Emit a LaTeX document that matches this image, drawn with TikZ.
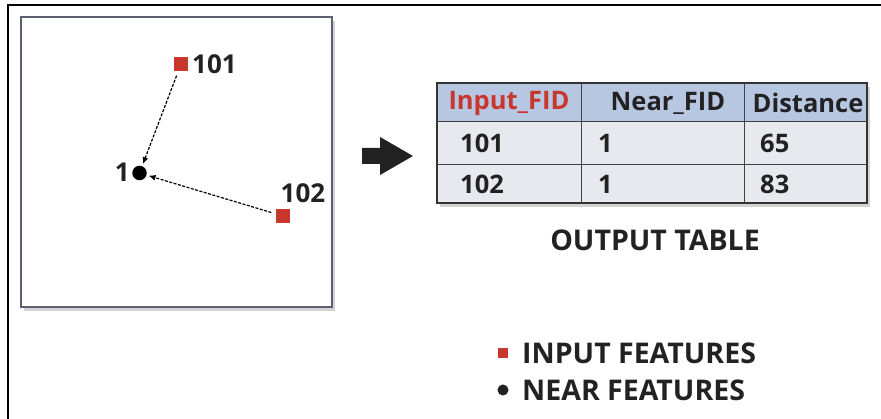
\documentclass[tikz,border=0pt]{standalone}
\usepackage{fontspec}
\setmainfont{Open Sans}
\usetikzlibrary{shadows,arrows.meta}
\definecolor{feat}{HTML}{C8372D}
\definecolor{hdr}{HTML}{B7C7E2}
\definecolor{rowc}{HTML}{E8E9EE}
\definecolor{frame}{HTML}{5C6070}
\definecolor{ink}{HTML}{222222}
\tikzset{
  sq/.style={fill=feat,minimum size=13.5pt,inner sep=0pt},
  lbl/.style={font=\bfseries\fontsize{26}{26}\selectfont,text=ink,inner sep=0pt},
  cell/.style={font=\bfseries\fontsize{25.5}{26}\selectfont,text=ink,inner sep=0pt},
  leg/.style={font=\bfseries\fontsize{28.5}{29}\selectfont,text=ink,inner sep=0pt,anchor=west},
  conn/.style={-{Latex[length=7pt,width=6pt]},dash pattern=on 3pt off 1.5pt,line width=1.2pt,shorten >=2pt,shorten <=5pt},
}
\begin{document}
\begin{tikzpicture}[x=1pt,y=-1pt]
\useasboundingbox (0,0) rectangle (881,419);
% outer frame
\draw[line width=1.2pt] (8,419) -- (8,5) -- (881,5);
% map box
\node[draw=frame,line width=1.5pt,fill=white,drop shadow={shadow xshift=3pt,shadow yshift=-4pt,opacity=0.35},minimum width=311pt,minimum height=290pt,inner sep=0pt] (map) at (176.5,162) {};
\node[sq] (p101) at (181,64) {};
\node[lbl,anchor=west] (t101) at (192,64) {101};
\node[circle,fill=black,minimum size=14.5pt,inner sep=0pt] (p1) at (139.5,173) {};
\node[lbl,anchor=east] (t1) at (130,172) {1};
\node[sq] (p102) at (283,216) {};
\node[lbl] (t102) at (303,193) {102};
\draw[conn] (p101) -- (p1);
\draw[conn] (p102) -- (p1);
% big arrow
\fill[ink] (362,148) -- (380,148) -- (380,137) -- (413,156) -- (380,175) -- (380,164) -- (362,164) -- cycle;
% table
\node[fill=rowc,draw=black!80,line width=1.3pt,drop shadow={shadow xshift=3pt,shadow yshift=-4pt,opacity=0.35},minimum width=430pt,minimum height=120pt,inner sep=0pt] (tab) at (652,143) {};
\fill[hdr] (437,83) rectangle (867,122);
\draw[line width=1.3pt,draw=black!80] (437,83) rectangle (867,203);
\draw[line width=1pt,draw=black!75] (437,122) -- (867,122) (437,165) -- (867,165) (581,83) -- (581,203) (744,83) -- (744,203);
\node[cell,text=feat] (h1) at (509,103) {Input\_FID};
\node[cell] (h2) at (668,103) {Near\_FID};
\node[cell] (h3) at (808,103) {Distance};
\node[cell,anchor=west] (a1) at (460,143) {101};
\node[cell,anchor=west] (b1) at (598,143) {1};
\node[cell,anchor=west] (c1) at (760,143) {65};
\node[cell,anchor=west] (a2) at (460,184) {102};
\node[cell,anchor=west] (b2) at (598,184) {1};
\node[cell,anchor=west] (c2) at (760,184) {83};
\node[font=\bfseries\fontsize{28.5}{29}\selectfont,text=ink,inner sep=0pt] (cap) at (655,240) {OUTPUT TABLE};
% legend
\node[fill=feat,minimum size=10.5pt,inner sep=0pt] (lsq) at (503,353) {};
\node[leg] (l1) at (522,353) {INPUT FEATURES};
\node[circle,fill=ink,minimum size=11pt,inner sep=0pt] (ldot) at (503,390) {};
\node[leg] (l2) at (522,390) {NEAR FEATURES};
\end{tikzpicture}
\end{document}
